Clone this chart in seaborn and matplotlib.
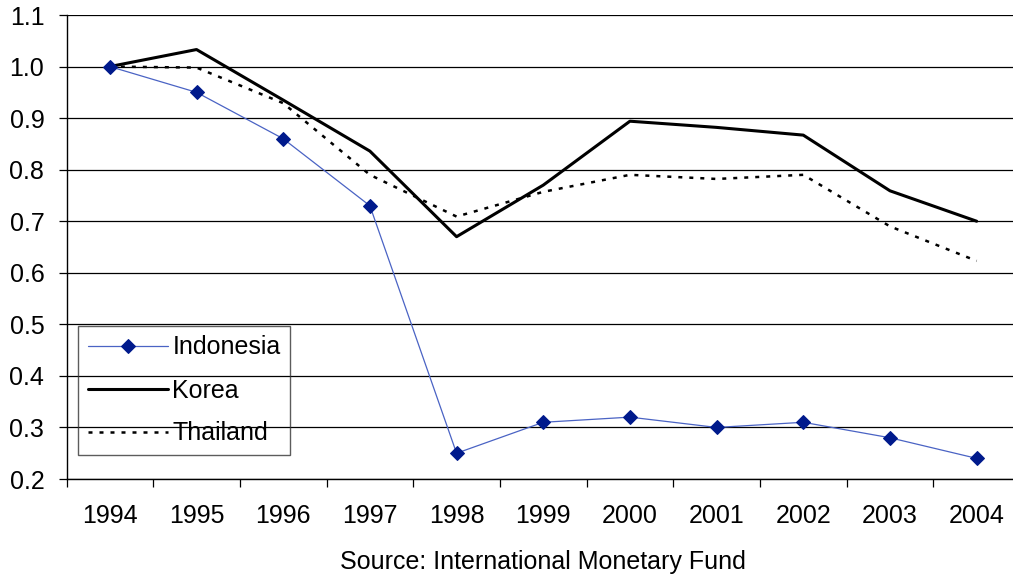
import matplotlib
matplotlib.use("Agg")
import matplotlib.pyplot as plt
import seaborn as sns
import pandas as pd
import numpy as np

years = ["1994", "1995", "1996", "1997", "1998", "1999", "2000", "2001", "2002", "2003", "2004"]
indonesia = [1.00, 0.95, 0.86, 0.73, 0.25, 0.31, 0.32, 0.30, 0.31, 0.28, 0.24]
korea = [1.00, 1.033, 0.935, 0.836, 0.67, 0.77, 0.894, 0.882, 0.867, 0.759, 0.70]
thailand = [1.00, 0.998, 0.929, 0.79, 0.709, 0.757, 0.79, 0.782, 0.79, 0.69, 0.623]
yticks = [0.2, 0.3, 0.4, 0.5, 0.6, 0.7, 0.8, 0.9, 1.0, 1.1]
source = "Source: International Monetary Fund"

sns.set_style("white")
plt.rcParams["font.family"] = ["Liberation Sans", "DejaVu Sans"]
plt.rcParams["text.color"] = "black"
plt.rcParams["xtick.color"] = "black"
plt.rcParams["ytick.color"] = "black"

W, H = 1013, 580
fig = plt.figure(figsize=(W / 100, H / 100), dpi=100)
ax = fig.add_axes([66.5 / W, 1 - 479 / H, (1020 - 66.5) / W, (479 - 15) / H])

pos = np.arange(len(years))
df = pd.DataFrame({"pos": pos, "Indonesia": indonesia, "Korea": korea, "Thailand": thailand})

for v in yticks:
    ax.axhline(v, color="black", lw=0.9, zorder=0)

sns.lineplot(data=df, x="pos", y="Indonesia", ax=ax, color="#4a63c4", lw=0.9,
             marker="D", markersize=7, markerfacecolor="#001a8c", markeredgecolor="#001a8c",
             label="Indonesia", zorder=4)
sns.lineplot(data=df, x="pos", y="Korea", ax=ax, color="black", lw=2.2, label="Korea", zorder=3)
sns.lineplot(data=df, x="pos", y="Thailand", ax=ax, color="black", lw=1.8,
             linestyle=(0, (1.6, 2.8)), label="Thailand", zorder=3)

ax.set_xlim(-0.5, len(years) - 0.5)
ax.set_ylim(0.2, 1.1)
ax.set_xticks(pos)
ax.set_xticklabels(years)
ax.set_xticks(np.arange(-0.5, len(years) - 0.4, 1.0), minor=True)
ax.tick_params(axis="x", which="major", length=0, pad=18, labelsize=18, labelcolor="black")
ax.tick_params(axis="x", which="minor", length=6, width=0.9, color="black", direction="out", bottom=True)
ax.set_yticks(yticks)
ax.set_yticklabels([f"{v:.1f}" for v in yticks])
ax.tick_params(axis="y", which="major", length=6, width=0.9, color="black", direction="out",
               pad=10, labelsize=18, left=True, labelcolor="black")
ax.set_xlabel("")
ax.set_ylabel("")

for s in ["top", "right"]:
    ax.spines[s].set_visible(False)
for s in ["left", "bottom"]:
    ax.spines[s].set_color("black")
    ax.spines[s].set_linewidth(1.0)

leg = ax.legend(loc="upper left", bbox_to_anchor=(78 / W, 1 - 326 / H), bbox_transform=fig.transFigure,
                borderaxespad=0, fontsize=18, handlelength=3.2, handletextpad=0.2,
                labelspacing=0.76, borderpad=0.38, fancybox=False, facecolor="none", framealpha=None)
leg.get_frame().set_edgecolor("#333333")
leg.get_frame().set_linewidth(1.0)
for t in leg.get_texts():
    t.set_color("black")

fig.text(543 / W, 1 - 562 / H, source, ha="center", va="center", fontsize=18, color="black")

fig.savefig("out.png", dpi=100)
